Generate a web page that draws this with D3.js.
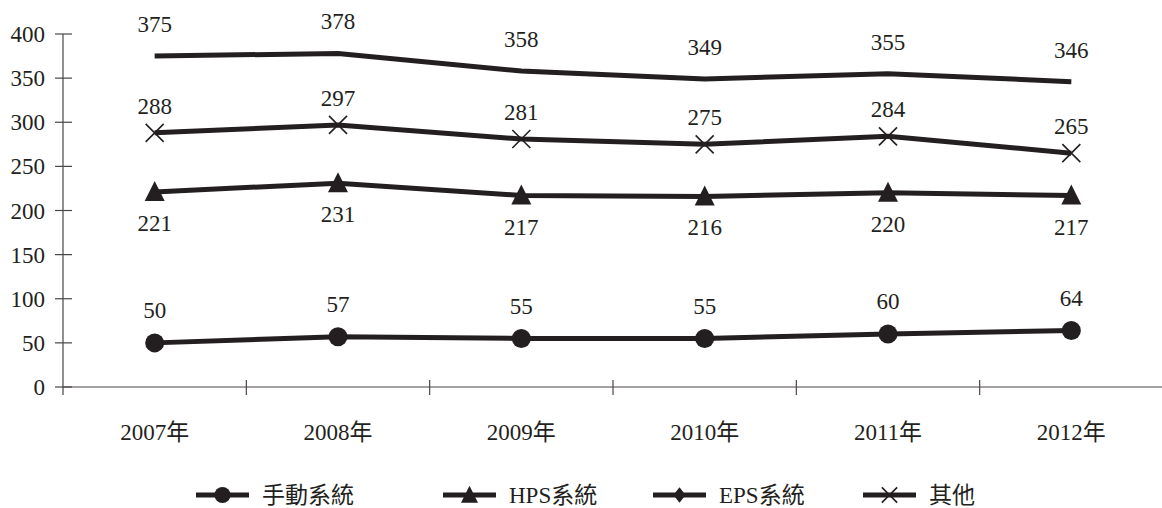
<!DOCTYPE html>
<html><head><meta charset="utf-8">
<script src="https://cdn.jsdelivr.net/npm/d3@7/dist/d3.min.js"></script>
<style>
body{margin:0;background:#fff;}
svg text{font-family:"Liberation Serif","Times New Roman","Noto Sans CJK TC",serif;fill:#231f20;}
</style></head><body>
<svg id="c" width="1162" height="508"></svg>
<script>
const categories = ["2007年","2008年","2009年","2010年","2011年","2012年"];
const seriesNames = ["手動系統","HPS系統","EPS系統","其他"];
const manual = [50,57,55,55,60,64];
const hps = [221,231,217,216,220,217];
const eps = [288,297,281,275,284,265];
const other = [375,378,358,349,355,346];
const yTicks = [0,50,100,150,200,250,300,350,400];

const series = [
  {name:seriesNames[0], values:manual, marker:"circle", legendMarker:"circle", labelDy:-33},
  {name:seriesNames[1], values:hps, marker:"triangle", legendMarker:"triangle", labelDy:31},
  {name:seriesNames[2], values:eps, marker:"cross", legendMarker:"diamond", labelDy:-27},
  {name:seriesNames[3], values:other, marker:"none", legendMarker:"cross", labelDy:-32}
];

const ink = "#231f20", axisCol = "#4a4546";
const FS = 23;
const svg = d3.select("#c");
const x = d3.scaleBand().domain(categories).range([63,1163]);
const y = d3.scaleLinear().domain([0,400]).range([387,34]);
const cx = d => x(d) + x.bandwidth()/2;

// axes
const g = svg.append("g");
g.append("line").attr("x1",63).attr("x2",1162).attr("y1",y(0)).attr("y2",y(0)).attr("stroke",axisCol).attr("stroke-width",1.2);
g.append("line").attr("x1",63).attr("x2",63).attr("y1",y(400)).attr("y2",395).attr("stroke",axisCol).attr("stroke-width",1.2);
yTicks.forEach(t=>{
  g.append("line").attr("x1",55).attr("x2",72).attr("y1",y(t)).attr("y2",y(t)).attr("stroke",axisCol).attr("stroke-width",1.2);
  g.append("text").attr("x",45).attr("y",y(t)).attr("dy","0.35em").attr("text-anchor","end").attr("font-size",FS).text(t);
});
categories.forEach((c,i)=>{
  if(i>0){
    g.append("line").attr("x1",x(c)).attr("x2",x(c)).attr("y1",380).attr("y2",395).attr("stroke",axisCol).attr("stroke-width",1.2);
  }
  g.append("text").attr("x",cx(c)).attr("y",432).attr("dy","0.35em").attr("text-anchor","middle").attr("font-size",FS).text(c);
});

function drawMarker(sel, type, px, py, s){
  if(type==="circle"){
    sel.append("circle").attr("cx",px).attr("cy",py).attr("r",9.5*s).attr("fill",ink);
  } else if(type==="triangle"){
    const w=10*s,h=20*s;
    sel.append("path").attr("d",`M${px},${py-h*0.55}L${px+w},${py+h*0.45}L${px-w},${py+h*0.45}Z`).attr("fill",ink);
  } else if(type==="diamond"){
    const r=9*s;
    sel.append("path").attr("d",`M${px},${py-r}L${px+r*0.8},${py}L${px},${py+r}L${px-r*0.8},${py}Z`).attr("fill",ink);
  } else if(type==="cross"){
    const r=9*s;
    sel.append("path").attr("d",`M${px-r},${py-r}L${px+r},${py+r}M${px-r},${py+r}L${px+r},${py-r}`).attr("stroke",ink).attr("stroke-width",1.6).attr("fill","none");
  }
}

const line = d3.line().x((d,i)=>cx(categories[i])).y(d=>y(d));
series.forEach(s=>{
  svg.append("path").datum(s.values).attr("d",line).attr("fill","none").attr("stroke",ink).attr("stroke-width",5).attr("stroke-linejoin","miter");
  s.values.forEach((v,i)=>{
    drawMarker(svg, s.marker, cx(categories[i]), y(v), 1);
    svg.append("text").attr("x",cx(categories[i])).attr("y",y(v)+s.labelDy).attr("dy","0.35em").attr("text-anchor","middle").attr("font-size",FS).text(v);
  });
});

// legend
const legendX = [196,443,653,863];
const ly = 495;
series.forEach((s,i)=>{
  const lx = legendX[i];
  svg.append("line").attr("x1",lx).attr("x2",lx+53).attr("y1",ly).attr("y2",ly).attr("stroke",ink).attr("stroke-width",5);
  drawMarker(svg, s.legendMarker, lx+26.5, ly, 0.85);
  svg.append("text").attr("x",lx+66).attr("y",ly).attr("dy","0.35em").attr("font-size",FS).text(s.name);
});
</script>
</body></html>
